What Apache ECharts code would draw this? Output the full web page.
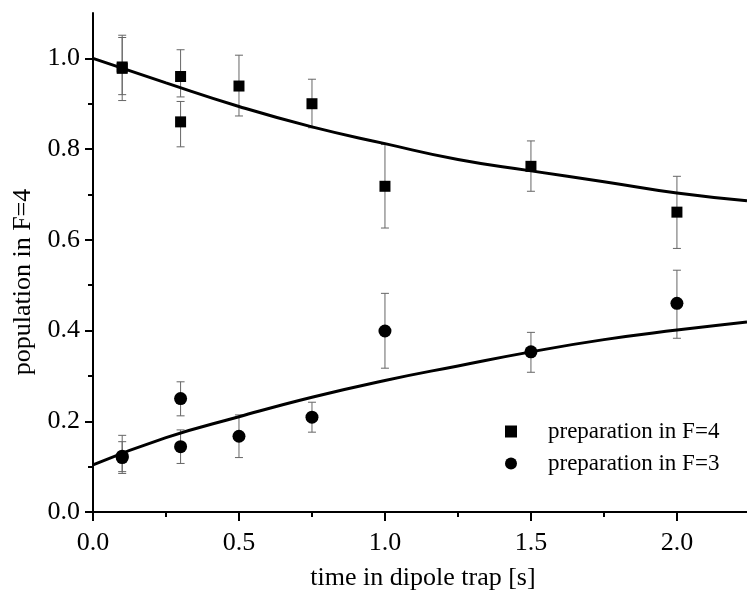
<!DOCTYPE html>
<html>
<head>
<meta charset="utf-8">
<script src="https://cdn.jsdelivr.net/npm/echarts@6/dist/echarts.min.js"></script>
<style>
  html, body { margin: 0; padding: 0; background: #fff; }
  #chart { width: 747px; height: 598px; }
</style>
</head>
<body>
<div id="chart"></div>
<script>
// measured points, preparation in F=4 (squares)
const f4X = [0.1, 0.1, 0.3, 0.3, 0.5, 0.75, 1.0, 1.5, 2.0];
const f4Y = [0.981, 0.978, 0.960, 0.860, 0.939, 0.900, 0.718, 0.762, 0.661];
const f4Hi = [1.051, 1.046, 1.019, 0.905, 1.007, 0.954, 0.810, 0.818, 0.740];
const f4Lo = [0.907, 0.920, 0.915, 0.805, 0.873, 0.847, 0.626, 0.707, 0.581];

// measured points, preparation in F=3 (circles)
const f3X = [0.1, 0.1, 0.3, 0.3, 0.5, 0.75, 1.0, 1.5, 2.0];
const f3Y = [0.123, 0.120, 0.250, 0.144, 0.167, 0.209, 0.399, 0.353, 0.460];
const f3Hi = [0.169, 0.155, 0.287, 0.181, 0.214, 0.242, 0.482, 0.396, 0.533];
const f3Lo = [0.085, 0.089, 0.212, 0.107, 0.120, 0.176, 0.317, 0.308, 0.383];

// fitted curves
const fitX = [0, 0.25, 0.5, 0.75, 1.0, 1.25, 1.5, 1.75, 2.0, 2.24];
const fit4Y = [1.0, 0.946, 0.894, 0.849, 0.812, 0.777, 0.752, 0.728, 0.703, 0.686];
const fit3Y = [0.104, 0.164, 0.210, 0.253, 0.290, 0.322, 0.353, 0.380, 0.401, 0.419];

// ticks
const xMajor = [0, 0.5, 1.0, 1.5, 2.0];
const xMinor = [0.25, 0.75, 1.25, 1.75];
const yMajor = [0, 0.2, 0.4, 0.6, 0.8, 1.0];
const yMinor = [0.1, 0.3, 0.5, 0.7, 0.9];

const FONT = 'Liberation Serif';
const zip = (a, b) => a.map((v, i) => [v, b[i]]);

function errorBars(xs, lo, hi) {
    return {
        type: 'custom',
        silent: true,
        z: 1,
        data: xs.map((x, i) => [x, lo[i], hi[i]]),
        encode: {x: 0, y: [1, 2]},
        renderItem: function (params, api) {
            const top = api.coord([api.value(0), api.value(2)]);
            const bot = api.coord([api.value(0), api.value(1)]);
            const w = 4;
            const style = {stroke: '#666', lineWidth: 1};
            return {
                type: 'group',
                children: [
                    {type: 'line', shape: {x1: top[0], y1: top[1], x2: bot[0], y2: bot[1]}, style: style},
                    {type: 'line', shape: {x1: top[0] - w, y1: top[1], x2: top[0] + w, y2: top[1]}, style: style},
                    {type: 'line', shape: {x1: bot[0] - w, y1: bot[1], x2: bot[0] + w, y2: bot[1]}, style: style}
                ]
            };
        }
    };
}

const blackLine = {show: true, lineStyle: {color: '#000', width: 2}};

const option = {
    animation: false,
    backgroundColor: '#fff',
    grid: {left: 93, right: 0, top: 13, bottom: 86},
    legend: {
        orient: 'vertical',
        left: 500,
        top: 415,
        itemWidth: 12,
        itemHeight: 12,
        itemGap: 9,
        data: ['preparation in F=4', 'preparation in F=3'],
        textStyle: {fontFamily: FONT, fontSize: 23, color: '#000', padding: [0, 0, 0, 26]}
    },
    xAxis: [{
        type: 'value', min: 0, max: 2.24,
        axisLine: blackLine,
        splitLine: {show: false},
        axisTick: {show: true, length: 9, lineStyle: {color: '#000', width: 2}, customValues: xMajor},
        axisLabel: {
            customValues: xMajor, margin: 18,
            fontFamily: FONT, fontSize: 26, color: '#000',
            formatter: v => v.toFixed(1)
        }
    }, {
        type: 'value', min: 0, max: 2.24, position: 'bottom',
        axisLine: {show: false},
        splitLine: {show: false},
        axisLabel: {show: false},
        axisTick: {show: true, length: 5, lineStyle: {color: '#000', width: 2}, customValues: xMinor}
    }],
    yAxis: [{
        type: 'value', min: 0, max: 1.1,
        axisLine: blackLine,
        splitLine: {show: false},
        axisTick: {show: true, length: 8, lineStyle: {color: '#000', width: 2}, customValues: yMajor},
        axisLabel: {
            customValues: yMajor, margin: 13,
            fontFamily: FONT, fontSize: 26, color: '#000',
            formatter: v => v.toFixed(1)
        }
    }, {
        type: 'value', min: 0, max: 1.1, position: 'left',
        axisLine: {show: false},
        splitLine: {show: false},
        axisLabel: {show: false},
        axisTick: {show: true, length: 5, lineStyle: {color: '#000', width: 2}, customValues: yMinor}
    }],
    graphic: [{
        type: 'text', x: 423, y: 578,
        style: {text: 'time in dipole trap [s]', font: '26px "Liberation Serif"', fill: '#000',
            textAlign: 'center', textVerticalAlign: 'middle'}
    }, {
        type: 'text', x: 23, y: 282, rotation: Math.PI / 2,
        style: {text: 'population in F=4', font: '26px "Liberation Serif"', fill: '#000',
            textAlign: 'center', textVerticalAlign: 'middle'}
    }],
    series: [
        errorBars(f4X, f4Lo, f4Hi),
        errorBars(f3X, f3Lo, f3Hi),
        {
            type: 'line', data: zip(fitX, fit4Y), smooth: 0.5, showSymbol: false,
            lineStyle: {color: '#000', width: 3}, z: 3, silent: true
        },
        {
            type: 'line', data: zip(fitX, fit3Y), smooth: 0.5, showSymbol: false,
            lineStyle: {color: '#000', width: 3}, z: 3, silent: true
        },
        {
            name: 'preparation in F=4', type: 'scatter', symbol: 'rect', symbolSize: 11,
            data: zip(f4X, f4Y), itemStyle: {color: '#000', opacity: 1}, z: 4
        },
        {
            name: 'preparation in F=3', type: 'scatter', symbol: 'circle', symbolSize: 13,
            data: zip(f3X, f3Y), itemStyle: {color: '#000', opacity: 1}, z: 4
        }
    ]
};

const myChart = echarts.init(document.getElementById('chart'));
myChart.setOption(option);
</script>
</body>
</html>
